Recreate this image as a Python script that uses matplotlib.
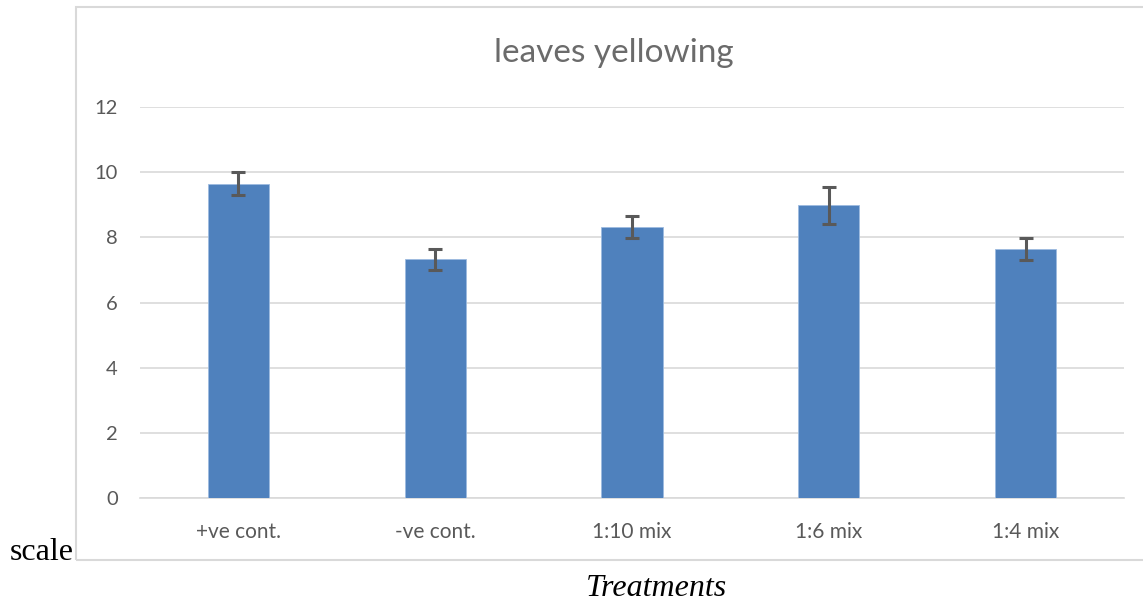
import matplotlib.pyplot as plt
from matplotlib.patches import Rectangle
import numpy as np

# data
treatments = ["+ve cont.", "-ve cont.", "1:10 mix", "1:6 mix", "1:4 mix"]
means = [9.65, 7.32, 8.31, 8.98, 7.63]
errors = [0.34, 0.32, 0.34, 0.58, 0.34]
yticks = [0, 2, 4, 6, 8, 10, 12]

W, H = 1143, 603
fig = plt.figure(figsize=(W / 100, H / 100), dpi=100)
fig.patch.set_facecolor("white")

# outer chart frame (right edge falls outside the picture)
fig.patches.append(
    Rectangle((76 / W, 1 - 560 / H), 1.0, (560 - 6.5) / H, transform=fig.transFigure,
              fill=False, edgecolor="#d9d9d9", linewidth=1.5, zorder=0)
)

ax = fig.add_axes([140 / W, 1 - 498 / H, (1124 - 140) / W, (498 - 107) / H])
x = np.arange(len(treatments))
ax.bar(x, means, width=0.31, color="#4f81bd", edgecolor="#9dbbe0", linewidth=0.6, zorder=3)
ax.errorbar(x, means, yerr=errors, fmt="none", ecolor="#595959", elinewidth=2.2,
            capsize=5, capthick=2.2, zorder=4)

ax.set_xlim(-0.5, len(treatments) - 0.5)
ax.set_ylim(0, 12)
ax.set_yticks(yticks)
ax.yaxis.grid(True, color="#d9d9d9", linewidth=1.2, zorder=0)
ax.set_axisbelow(True)
for s in ["left", "right", "top"]:
    ax.spines[s].set_visible(False)
ax.spines["bottom"].set_color("#d9d9d9")
ax.spines["bottom"].set_linewidth(1.2)
ax.tick_params(length=0, labelcolor="#595959")
ax.tick_params(axis="y", pad=16, labelsize=14.5)
ax.tick_params(axis="x", pad=17, labelsize=15)
ax.set_xticks(x)
ax.set_xticklabels(treatments)
for lbl in ax.get_xticklabels() + ax.get_yticklabels():
    lbl.set_fontfamily("Lato")

fig.text(614 / W, 1 - 53 / H, "leaves yellowing", ha="center", va="center",
         fontsize=24, color="#6b6b6b", family="Lato")
fig.text(10 / W, 1 - 560 / H, "scale", ha="left", va="baseline",
         fontsize=23, family="Liberation Serif", color="black")
fig.text(657 / W, 1 - 596 / H, "Treatments", ha="center", va="baseline",
         fontsize=23, family="Liberation Serif", style="italic", color="black")

fig.savefig("out.png", dpi=100, facecolor="white")
